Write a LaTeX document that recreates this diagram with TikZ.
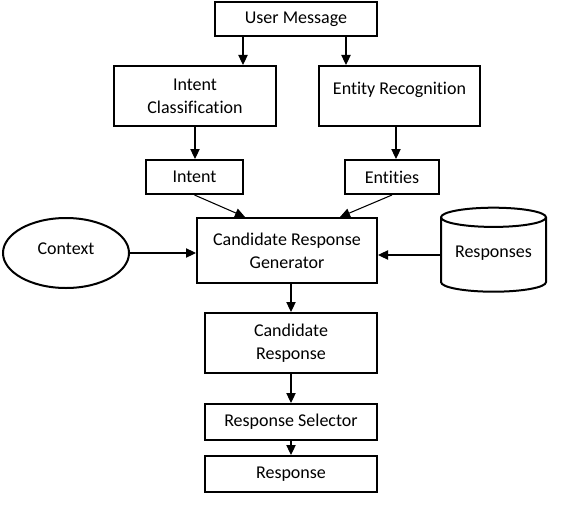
\documentclass[tikz,border=0pt]{standalone}
\usepackage{fontspec}
\setmainfont{Carlito}[Ligatures=NoCommon]
\usepackage{tikz}
\usetikzlibrary{arrows.meta}
\usetikzlibrary{shapes.geometric}
\tikzstyle{hit}=[-{Triangle[length=7.5pt,width=7pt]},line width=0.8pt]
\tikzstyle{blk}=[draw=black,line width=1.5pt,align=center,inner sep=0pt,
                font=\fontsize{13.5}{17.5}\selectfont]
\tikzstyle{ovl}=[blk,ellipse]
\tikzstyle{store}=[blk,cylinder,shape border rotate=90,aspect=0.25]

\begin{document}
\begin{tikzpicture}[x=0.75pt,y=-0.75pt]
\useasboundingbox (0,0) rectangle (570,510);
% input and understanding
\node at (296,19)[blk,minimum width=121.5pt,minimum height=25.5pt] (msg) {User Message};
\node at (195,96)[blk,minimum width=121.5pt,minimum height=45pt] (intcls) {Intent\\Classification};
\node at (399.5,96)[blk,minimum width=120.75pt,minimum height=45pt,text depth=11pt] (entrec) {Entity Recognition};
\node at (194.5,177)[blk,minimum width=72.75pt,minimum height=25.5pt] (intent) {Intent};
\node at (392,177)[blk,minimum width=70.5pt,minimum height=25.5pt] (ents) {Entities};
% generation
\node at (287,250.5)[blk,minimum width=135pt,minimum height=48.75pt] (gen) {Candidate Response\\Generator};
\node at (66,253)[ovl,minimum width=94.5pt,minimum height=52.5pt,text depth=6pt] (ctx) {Context};
\node at (493.5,255)[store,minimum width=78.75pt,minimum height=63pt,text depth=5pt] (resp) {Responses};
% selection
\node at (291,343)[blk,minimum width=129pt,minimum height=45pt] (cand) {Candidate\\Response};
\node at (291,422)[blk,minimum width=129pt,minimum height=27pt] (sel) {Response Selector};
\node at (291,474)[blk,minimum width=129pt,minimum height=27pt] (out) {Response};
% arrows
\draw[hit] (msg.south -| 243,0) -- (intcls.north -| 243,0);
\draw[hit] (msg.south -| 346,0) -- (entrec.north -| 346,0);
\draw[hit] (intcls.south) -- (intent.north -| intcls.south);
\draw[hit] (entrec.south -| 396,0) -- (ents.north -| 396,0);
\draw[hit] (intent.south) -- (gen.north -| 245,0);
\draw[hit] (ents.south) -- (gen.north -| 340,0);
\draw[hit] (ctx.east) -- (ctx.east -| gen.west);
\draw[hit] (resp.west) -- (resp.west -| gen.east);
\draw[hit] (cand.north |- gen.south) -- (cand.north);
\draw[hit] (cand.south) -- (sel.north);
\draw[hit] (sel.south) -- (out.north);
\end{tikzpicture}
\end{document}
